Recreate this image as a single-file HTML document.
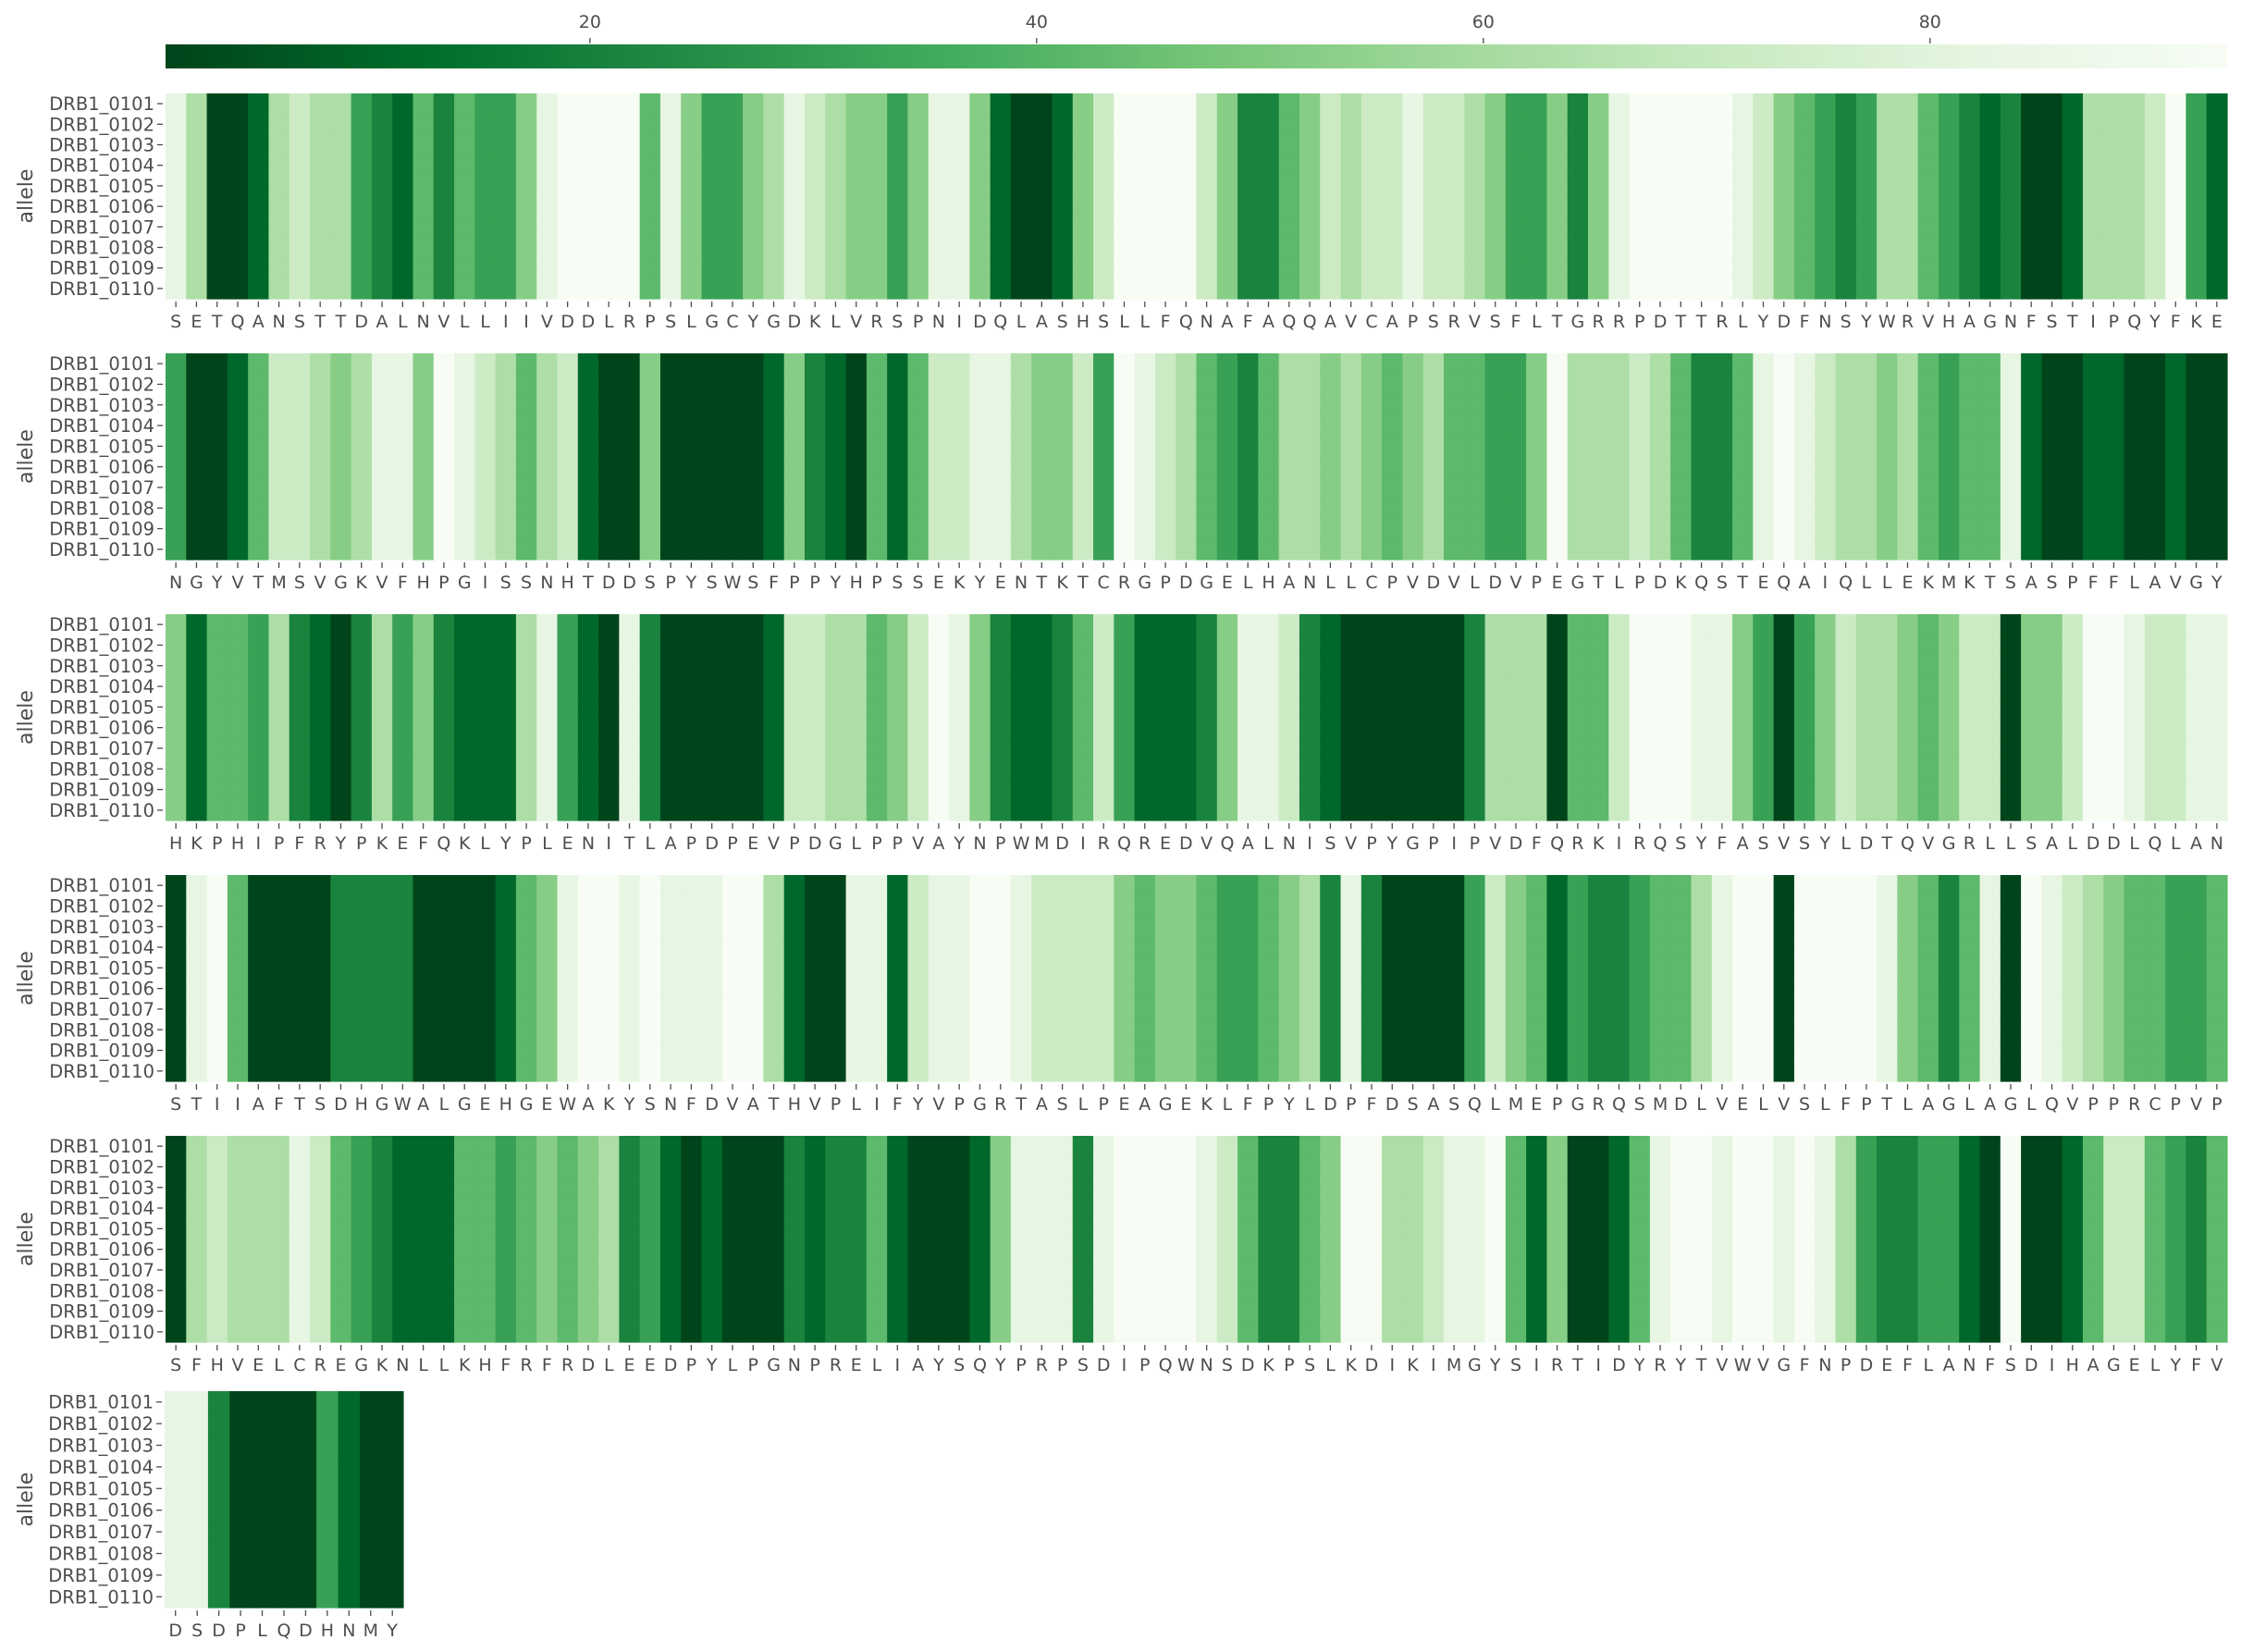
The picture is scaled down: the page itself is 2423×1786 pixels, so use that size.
<!DOCTYPE html>
<html>
<head>
<meta charset="utf-8">
<style>
  html, body { margin: 0; padding: 0; background: #ffffff; }
  svg { display: block; }
  text { font-family: "DejaVu Sans", "Liberation Sans", sans-serif; fill: #4d4d4d; }
</style>
</head>
<body>
<svg id="chart" width="2423" height="1786" viewBox="0 0 2423 1786" xmlns="http://www.w3.org/2000/svg">
  <defs>
    <linearGradient id="cbgrad" x1="0" x2="1" y1="0" y2="0"></linearGradient>
  </defs>
  <g id="colorbar"></g>
  <g id="panels"></g>
</svg>
<script>
// ---- data ----
const alleles = ["DRB1_0101","DRB1_0102","DRB1_0103","DRB1_0104","DRB1_0105","DRB1_0106","DRB1_0107","DRB1_0108","DRB1_0109","DRB1_0110"];

const residues1 = "SETQANSTTDALNVLLIIVDDLRPSLGCYGDKLVRSPNIDQLASHSLLFQNAFAQQAVCAPSRVSFLTGRRPDTTRLYDFNSYWRVHAGNFSTIPQYFKE".split("");
const values1 = [83,62,1,1,11,62,72,62,62,32,
21,11,42,21,42,32,32,52,83,93,
93,93,93,42,83,52,32,32,52,62,
83,72,62,52,52,32,52,83,83,52,
11,1,1,11,52,72,93,93,93,93,
72,52,21,21,42,52,72,62,72,72,
83,72,72,62,52,32,32,52,21,52,
83,93,93,93,93,93,83,72,52,42,
32,21,32,62,62,42,32,21,11,21,
1,1,11,62,62,62,72,93,32,11];

const residues2 = "NGYVTMSVGKVFHPGISSNHTDDSPYSWSFPPYHPSSEKYENTKTCRGPDGELHANLLCPVDVLDVPEGTLPDKQSTEQAIQLLEKMKTSASPFFLAVGY".split("");
const values2 = [32,1,1,11,42,72,72,62,52,62,
83,83,52,93,83,72,62,42,62,72,
11,1,1,52,1,1,1,1,1,11,
52,21,11,1,42,11,42,72,72,83,
83,62,52,52,72,32,93,83,72,62,
42,32,21,42,62,62,52,62,52,42,
52,62,42,42,32,32,52,93,62,62,
62,72,62,42,21,21,42,83,93,83,
72,62,62,52,62,42,32,42,42,83,
11,1,1,11,11,1,1,11,1,1];

const residues3 = "HKPHIPFRYPKEFQKLYPLENITLAPDPEVPDGLPPVAYNPWMDIRQREDVQALNISVPYGPIPVDFQRKIRQSYFASVSYLDTQVGRLLSALDDLQLAN".split("");
const values3 = [52,11,42,42,32,62,21,11,1,21,
62,32,52,21,11,11,11,62,83,32,
11,1,83,21,1,1,1,1,1,11,
72,72,62,62,42,52,72,93,83,52,
21,11,11,21,42,72,32,11,11,11,
21,52,83,83,72,21,11,1,1,1,
1,1,1,21,62,62,62,1,42,42,
72,93,93,93,83,83,52,32,1,32,
52,72,62,62,52,42,52,72,72,1,
52,52,72,93,93,83,72,72,83,83];

const residues4 = "STIIAFTSDHGWALGEHGEWAKYSNFDVATHVPLIFYVPGRTASLPEAGEKLFPYLDPFDSASQLMEPGRQSMDLVELVSLFPTLAGLAGLQVPPRCPVP".split("");
const values4 = [1,83,93,42,1,1,1,1,21,21,
21,21,1,1,1,1,11,42,52,83,
93,93,83,93,83,83,83,93,93,62,
11,1,1,83,83,11,72,83,83,93,
93,83,72,72,72,72,52,42,52,52,
42,32,32,42,52,62,21,83,21,1,
1,1,1,32,72,52,42,11,32,21,
21,32,42,42,62,83,93,93,1,93,
93,93,93,83,52,42,21,42,83,1,
93,83,72,62,52,42,42,32,32,42];

const residues5 = "SFHVELCREGKNLLKHFRFRDLEEDPYLPGNPRELIAYSQYPRPSDIPQWNSDKPSLKDIKIMGYSIRTIDYRYTVWVGFNPDEFLANFSDIHAGELYFV".split("");
const values5 = [1,62,72,62,62,62,83,72,42,32,
21,11,11,11,42,42,32,42,52,42,
52,62,21,32,11,1,11,1,1,1,
21,11,21,21,42,11,1,1,1,11,
52,83,83,83,21,83,93,93,93,93,
83,72,42,21,21,42,52,93,93,62,
62,72,83,83,93,42,11,52,1,1,
11,42,83,93,93,83,93,93,83,93,
83,62,32,21,21,32,32,11,1,93,
1,1,11,42,72,72,42,32,21,42];

const residues6 = "DSDPLQDHNMY".split("");
const values6 = [83,83,21,1,1,1,1,32,11,1,1];

const cbTicks = [20, 40, 60, 80];

// ---- scales ----
const vmin = 1, vmax = 93.3;
const greens = ["#f7fcf5","#e5f5e0","#c7e9c0","#a1d99b","#74c476","#41ab5d","#238b45","#006d2c","#00441b"];
function hexToRgb(h){ return [parseInt(h.substr(1,2),16),parseInt(h.substr(3,2),16),parseInt(h.substr(5,2),16)]; }
function greensR(v){
  let t = (v - vmin) / (vmax - vmin);
  t = Math.max(0, Math.min(1, t));
  const g = 1 - t; // reversed: low value = dark
  const pos = g * (greens.length - 1);
  const i = Math.min(greens.length - 2, Math.floor(pos));
  const f = pos - i;
  const a = hexToRgb(greens[i]), b = hexToRgb(greens[i+1]);
  const c = a.map((x, k) => Math.round(x + (b[k]-x)*f));
  return "rgb(" + c.join(",") + ")";
}

const NS = "http://www.w3.org/2000/svg";
function mk(tag, attrs, parent){
  const e = document.createElementNS(NS, tag);
  for (const k in attrs) e.setAttribute(k, attrs[k]);
  if (parent) parent.appendChild(e);
  return e;
}

// ---- colorbar ----
const cbX0 = 179, cbX1 = 2408, cbY = 48, cbH = 26;
function cbXScale(v){ return cbX0 + (v - vmin) / (vmax - vmin) * (cbX1 - cbX0); }
const grad = document.getElementById("cbgrad");
for (let s = 0; s <= 40; s++) {
  const v = vmin + (vmax - vmin) * s / 40;
  mk("stop", {offset: (s/40*100) + "%", "stop-color": greensR(v)}, grad);
}
const cb = document.getElementById("colorbar");
const cbRect = mk("rect", {x: cbX0, y: cbY, width: cbX1 - cbX0, height: cbH, fill: "url(#cbgrad)"}, cb);


cbTicks.forEach(t => {
  const x = cbXScale(t);
  const ln = mk("line", {x1: x, x2: x, y1: 41, y2: 47, stroke: "#4d4d4d", "stroke-width": 1.3}, cb);
  
  
  const tx = mk("text", {x: x, y: 30, "text-anchor": "middle", "font-size": "19px"}, cb);
  tx.textContent = t;
  
  
});

// ---- panels ----
const panelsG = document.getElementById("panels");
const panelDefs = [
  {res: residues1, vals: values1, top: 101, h: 222, x0: 179, cw: 22.29},
  {res: residues2, vals: values2, top: 382, h: 223, x0: 179, cw: 22.29},
  {res: residues3, vals: values3, top: 664, h: 223, x0: 179, cw: 22.29},
  {res: residues4, vals: values4, top: 946, h: 223, x0: 179, cw: 22.29},
  {res: residues5, vals: values5, top: 1228, h: 223, x0: 179, cw: 22.29},
  {res: residues6, vals: values6, top: 1504, h: 234, x0: 178, cw: 23.45}
];

panelDefs.forEach((p, pi) => {
  const g = mk("g", {}, panelsG);
  
  
  const rh = p.h / alleles.length;
  const xScale = i => p.x0 + i * p.cw;
  const yScale = r => p.top + r * rh;

  // cells
  p.vals.forEach((v, ci) => {
    alleles.forEach((a, ri) => {
      const c = mk("rect", {
        x: xScale(ci), y: yScale(ri),
        width: p.cw + 0.6, height: rh + 0.6,
        fill: greensR(v)
      }, g);
      
      
    });
  });

  // y tick labels
  alleles.forEach((a, ri) => {
    const cy = yScale(ri) + rh / 2;
    const tk = mk("line", {x1: p.x0 - 9, x2: p.x0 - 3, y1: cy, y2: cy, stroke: "#4d4d4d", "stroke-width": 1.3}, g);
    
    
    const t = mk("text", {x: p.x0 - 12, y: cy + 7, "text-anchor": "end", "font-size": "19.5px"}, g);
    t.textContent = a;
    
    
  });

  // x tick labels
  const bottom = p.top + p.h;
  p.res.forEach((r, ci) => {
    const cx = xScale(ci) + p.cw / 2;
    const tk = mk("line", {x1: cx, x2: cx, y1: bottom + 3, y2: bottom + 9, stroke: "#4d4d4d", "stroke-width": 1.3}, g);
    
    
    const t = mk("text", {x: cx, y: bottom + 31, "text-anchor": "middle", "font-size": "19px"}, g);
    t.textContent = r;
    
    
  });

  // y axis title
  const cyMid = p.top + p.h / 2;
  const yl = mk("text", {x: 0, y: 0, "text-anchor": "middle", "font-size": "22px",
    transform: "translate(35," + cyMid + ") rotate(-90)"}, g);
  yl.textContent = "allele";
  
  
});
</script>
</body>
</html>
